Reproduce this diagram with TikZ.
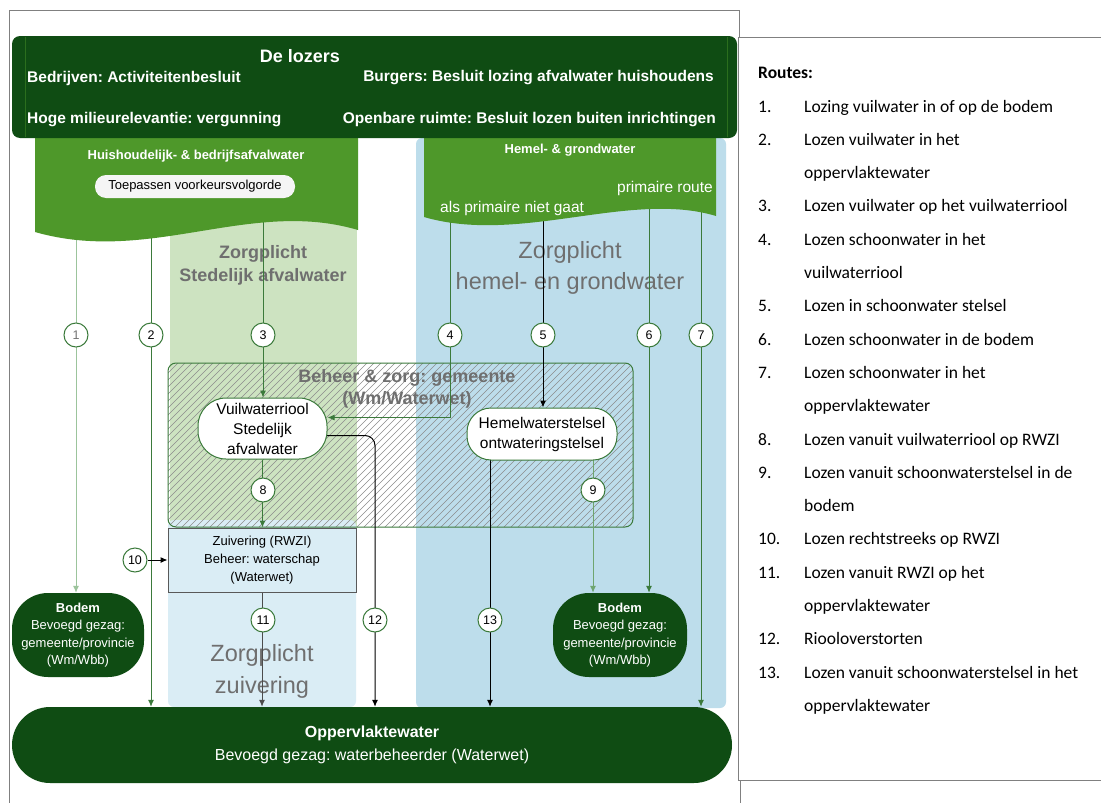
\documentclass[tikz,border=0pt]{standalone}
\usepackage{fontspec}
\setmainfont{Liberation Sans}
\newfontfamily\legfont{Carlito}
\usetikzlibrary{arrows.meta,calc}
\definecolor{dkgreen}{HTML}{0F4C13}
\definecolor{mdgreen}{HTML}{4E982A}
\definecolor{ltgreen}{HTML}{CDE3C1}
\definecolor{ltblue}{HTML}{BDDDEB}
\definecolor{paleblue}{HTML}{DAEDF5}
\definecolor{rgreen}{HTML}{3B7A3B}
\definecolor{rlgreen}{HTML}{9CC49C}
\definecolor{r9green}{HTML}{6FA56F}
\definecolor{zgray}{HTML}{6F6F6F}
\definecolor{framegray}{HTML}{808080}
\newcommand{\fsz}[2]{\fontsize{#1}{#2}\selectfont}
\pgfdeclarelayer{bands}
\pgfdeclarelayer{routes}
\pgfsetlayers{bands,routes,main}
\frenchspacing
\begin{document}
\begin{tikzpicture}[x=1pt,y=-1pt,
  route/.style={draw=rgreen,line width=1pt,-{Latex[length=7pt,width=6pt]}},
  routel/.style={route,draw=rlgreen},
  route9/.style={route,draw=r9green},
  routek/.style={route,draw=black},
  num/.style={circle,draw=rgreen,fill=white,line width=1pt,minimum size=24pt,inner sep=0pt,font=\fsz{12.5}{14}},
  darkpill/.style={fill=dkgreen,text=white,align=center,inner sep=0pt},
  whitepill/.style={fill=white,draw=rgreen,line width=1pt,align=center,inner sep=0pt,font=\fsz{15.5}{20}},
  wavetext/.style={text=white,inner sep=0pt,font=\bfseries\fsz{13}{15}},
  lozertext/.style={text=white,inner sep=0pt,font=\bfseries\fsz{15.5}{18}},
  zorgtext/.style={text=zgray,align=center,inner sep=0pt},
  legtext/.style={anchor=base west,inner sep=0pt,font=\legfont\fsz{17.5}{20}},
  frameline/.style={draw=framegray,line width=1pt},
  hatch/.style={draw=black!45,line width=0.6pt}]
\useasboundingbox (0,0) rectangle (1101,803);

% ---------- background bands ----------
\begin{pgfonlayer}{bands}
\fill[white] (0,0) rectangle (1101,803);
\fill[ltgreen] (170,200) rectangle (357,527);
\fill[paleblue,rounded corners=6pt] (168,520) rectangle (356,707);
\fill[ltblue,rounded corners=6pt] (416,138) rectangle (726,708);
\node[zorgtext,font=\bfseries\fsz{18}{23}] (zsa) at (263,265.5) {Zorgplicht\\Stedelijk afvalwater};
\node[zorgtext,font=\fsz{23.5}{31}] (zhg) at (570,267.5) {Zorgplicht\\hemel- en grondwater};
\node[zorgtext,font=\fsz{23.5}{32}] (zzv) at (262,671) {Zorgplicht\\zuivering};
\begin{scope}
  \clip[rounded corners=8pt] (168,363) rectangle (633,527);
  \foreach \i in {0,7,...,640} \draw[hatch] (\i,527) -- ++(164,-164);
\end{scope}
\draw[rgreen,line width=1pt,rounded corners=8pt] (168,363) rectangle (633,527);
\node[zorgtext,font=\bfseries\fsz{18}{22}] (beheer) at (407,389) {Beheer \& zorg: gemeente\\(Wm/Waterwet)};
\end{pgfonlayer}

% ---------- frame ----------
\draw[frameline] (9,803) -- (9,10) -- (739,10) -- (739,37);
\draw[frameline] (1101,37) -- (738,37) -- (738,780) -- (1101,780);
\draw[frameline] (740,780) -- (740,803);

% ---------- source waves ----------
\fill[mdgreen] (35,130) -- (358,130) -- (358,230) .. controls (250,198) and (150,265) .. (35,232) -- cycle;
\fill[mdgreen] (424,130) -- (716,130) -- (716,216) .. controls (630,190) and (520,245) .. (424,217) -- cycle;
\node[wavetext] (hbafv) at (196,156) {Huishoudelijk- \& bedrijfsafvalwater};
\node[fill=black!4,rounded corners=11pt,minimum width=200pt,minimum height=23pt,inner sep=0pt,font=\fsz{13}{15}] (voork) at (195,186.5) {Toepassen voorkeursvolgorde};
\node[wavetext] (hgw) at (570,150) {Hemel- \& grondwater};
\node[text=white,inner sep=0pt,font=\fsz{15.5}{18},anchor=east] (prim) at (713,188) {primaire route};
\node[text=white,inner sep=0pt,font=\fsz{15.5}{18},anchor=west] (alsprim) at (440,208) {als primaire niet gaat};

% ---------- De lozers ----------
\node[darkpill,rounded corners=8pt,minimum width=725pt,minimum height=102pt] (lozers) at (374.5,87) {};
\draw[mdgreen!45!dkgreen,line width=0.8pt] (25,37) -- (25,137);
\draw[mdgreen!45!dkgreen,line width=0.8pt] (727,37) -- (727,137);
\node[lozertext,font=\bfseries\fsz{18}{20}] (title) at (300,56) {De lozers};
\node[lozertext,anchor=west] (bedr) at (27,78) {Bedrijven: Activiteitenbesluit};
\node[lozertext,anchor=east] (burg) at (714,78) {Burgers: Besluit lozing afvalwater huishoudens};
\node[lozertext,anchor=west] (hoge) at (27,120) {Hoge milieurelevantie: vergunning};
\node[lozertext,anchor=east] (openb) at (716,120) {Openbare ruimte: Besluit lozen buiten inrichtingen};

% ---------- main nodes ----------
\node[whitepill,rounded corners=28pt,minimum width=129pt,minimum height=61pt] (vuil) at (262.5,428.5) {Vuilwaterriool\\Stedelijk\\afvalwater};
\node[whitepill,rounded corners=24pt,minimum width=150pt,minimum height=52pt] (hemel) at (542,434) {Hemelwaterstelsel\\ontwateringstelsel};
\node[draw=black!65,fill=paleblue,line width=1pt,minimum width=188pt,minimum height=64pt,align=center,inner sep=0pt,font=\fsz{13}{18}] (zuiv) at (262,560) {Zuivering (RWZI)\\Beheer: waterschap\\(Waterwet)};
\node[darkpill,rounded corners=36pt,minimum width=132pt,minimum height=84pt,font=\fsz{13}{17.5}] (bodemL) at (78,635) {\textbf{Bodem}\\Bevoegd gezag:\\gemeente/provincie\\(Wm/Wbb)};
\node[darkpill,rounded corners=36pt,minimum width=134pt,minimum height=84pt,font=\fsz{13}{17.5}] (bodemR) at (620,635) {\textbf{Bodem}\\Bevoegd gezag:\\gemeente/provincie\\(Wm/Wbb)};
\node[darkpill,rounded corners=38pt,minimum width=720pt,minimum height=76pt,font=\fsz{16}{23}] (opp) at (372,745) {\textbf{Oppervlaktewater}\\Bevoegd gezag: waterbeheerder (Waterwet)};

% ---------- route numbers ----------
\node[num,text=black!55] (c1) at (76,335) {1};
\node[num] (c2) at (151,335) {2};
\node[num] (c3) at (263,335) {3};
\node[num] (c4) at (450,335) {4};
\node[num] (c5) at (543,335) {5};
\node[num] (c6) at (649,335) {6};
\node[num] (c7) at (701,335) {7};
\node[num] (c8) at (263,490) {8};
\node[num] (c9) at (593,490) {9};
\node[num] (c10) at (135,560) {10};
\node[num] (c11) at (263,620) {11};
\node[num] (c12) at (375,620) {12};
\node[num] (c13) at (490,620) {13};

% ---------- routes ----------
\begin{pgfonlayer}{routes}
\coordinate (s1) at (76,200);
\coordinate (s2) at (151,200);
\coordinate (s3) at (263,200);
\coordinate (s4) at (450,190);
\coordinate (s5) at (543,190);
\coordinate (s6) at (649,190);
\coordinate (s7) at (701,190);
\draw[routel] (s1) -- (s1 |- bodemL.north);
\draw[route] (s2) -- (s2 |- opp.north);
\draw[route] (s3) -- (s3 |- vuil.north);
\draw[route] (s4) |- ($(vuil.east)+(0,-11)$);
\draw[routek] (s5) -- (s5 |- hemel.north);
\draw[route] (s6) -- (s6 |- bodemR.north);
\draw[route] (s7) -- (s7 |- opp.north);
\draw[route] (vuil.south) -- (vuil.south |- zuiv.north);
\draw[route9] ($(hemel.south)+(51,-3)$) coordinate (h9) -- (h9 |- bodemR.north);
\draw[routek] (c10) -- (zuiv.west);
\draw[route,draw=black!70] (zuiv.south) -- (zuiv.south |- opp.north);
\draw[routek,rounded corners=10pt] ($(vuil.east)+(-5,7)$) -| (c12 |- opp.north);
\draw[routek] ($(hemel.south)+(-52,-3)$) coordinate (h13) -- (h13 |- opp.north);
\end{pgfonlayer}

% ---------- legend ----------
\node[legtext,font=\legfont\bfseries\fsz{17.5}{20}] (routes) at (758,78) {Routes:};
\foreach \n/\t [count=\k from 0] in {
  1./Lozing vuilwater in of op de bodem,
  2./Lozen vuilwater in het,
  /oppervlaktewater,
  3./Lozen vuilwater op het vuilwaterriool,
  4./Lozen schoonwater in het,
  /vuilwaterriool,
  5./Lozen in schoonwater stelsel,
  6./Lozen schoonwater in de bodem,
  7./Lozen schoonwater in het,
  /oppervlaktewater,
  8./Lozen vanuit vuilwaterriool op RWZI,
  9./Lozen vanuit schoonwaterstelsel in de,
  /bodem,
  10./Lozen rechtstreeks op RWZI,
  11./Lozen vanuit RWZI op het,
  /oppervlaktewater,
  12./Riooloverstorten,
  13./Lozen vanuit schoonwaterstelsel in het,
  /oppervlaktewater}{
  \node[legtext] (ln\k) at (758,{112+33.3*\k}) {\n};
  \node[legtext] (lt\k) at (804,{112+33.3*\k}) {\t};
}
\end{tikzpicture}
\end{document}
